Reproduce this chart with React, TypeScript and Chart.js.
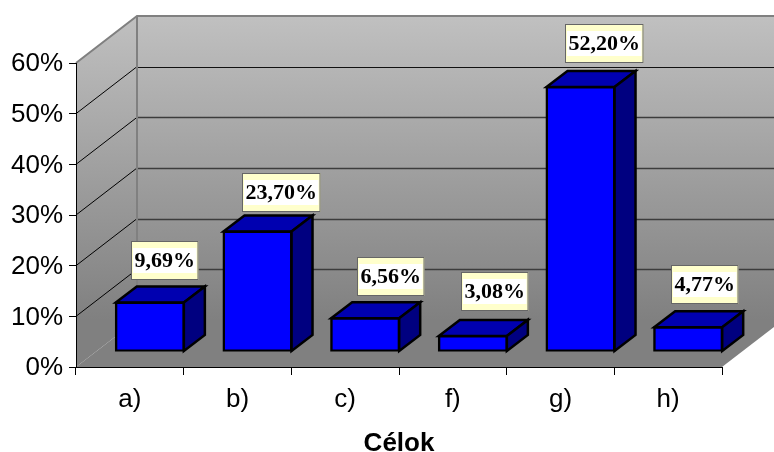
import React, { useEffect, useRef } from "react";
import { Chart, registerables } from "chart.js";

Chart.register(...registerables);

const categories = ["a)", "b)", "c)", "f)", "g)", "h)"];
const shares = [9.69, 23.7, 6.56, 3.08, 52.2, 4.77];
const shareLabels = ["9,69%", "23,70%", "6,56%", "3,08%", "52,20%", "4,77%"];
const yTicks = [0, 10, 20, 30, 40, 50, 60];
const axisTitle = "Célok";
const labelNudgeX = [15, 23.7, 26, 22, 24, 17];
const labelGapY = [22.3, 19.4, 22, 25.3, 24.3, 23];

const WALL_DX = 61;
const WALL_DY = -47;
const BAR_SHIFT_X = 20;
const BAR_SHIFT_Y = -15.5;
const BAR_DX = 21;
const BAR_DY = -16;
const SERIF = '"Liberation Serif", "Times New Roman", serif';
const SANS = '"Liberation Sans", Arial, sans-serif';

const wallsPlugin = {
  id: "walls",
  beforeDatasetsDraw(chart: any) {
    const { ctx, chartArea: a, scales } = chart;
    const y = scales.y;
    const L = a.left, R = a.right, T = a.top, B = a.bottom;
    const grad = ctx.createLinearGradient(0, T + WALL_DY, 0, B + WALL_DY);
    grad.addColorStop(0, "#c0c0c0");
    grad.addColorStop(1, "#808080");
    ctx.save();
    ctx.fillStyle = grad;
    ctx.fillRect(L + WALL_DX, T + WALL_DY, R - L + 10, B - T);
    ctx.beginPath();
    ctx.moveTo(L, T);
    ctx.lineTo(L + WALL_DX, T + WALL_DY);
    ctx.lineTo(L + WALL_DX, B + WALL_DY);
    ctx.lineTo(L, B);
    ctx.closePath();
    ctx.fill();
    ctx.fillStyle = "#808080";
    ctx.beginPath();
    ctx.moveTo(L, B);
    ctx.lineTo(L + WALL_DX, B + WALL_DY);
    ctx.lineTo(R + WALL_DX, B + WALL_DY);
    ctx.lineTo(R, B);
    ctx.closePath();
    ctx.fill();
    ctx.strokeStyle = "#000000";
    ctx.lineWidth = 1;
    for (const t of yTicks) {
      if (t === 0 || t === 60) continue;
      const py = y.getPixelForValue(t);
      ctx.beginPath();
      ctx.moveTo(L, py);
      ctx.lineTo(L + WALL_DX, py + WALL_DY);
      ctx.stroke();
      const by = Math.round(py + WALL_DY) + 0.5;
      ctx.strokeStyle = t >= 50 ? "#111111" : "#3c3c3c";
      ctx.lineWidth = t >= 50 ? 1 : 1.5;
      ctx.beginPath();
      ctx.moveTo(L + WALL_DX, by);
      ctx.lineTo(R + WALL_DX, by);
      ctx.stroke();
      ctx.strokeStyle = "#000000";
      ctx.lineWidth = 1;
    }
    ctx.strokeStyle = "#808080";
    ctx.lineWidth = 2;
    ctx.beginPath();
    ctx.moveTo(L, T);
    ctx.lineTo(L + WALL_DX, T + WALL_DY);
    ctx.lineTo(R + WALL_DX, T + WALL_DY);
    ctx.moveTo(L + WALL_DX, T + WALL_DY);
    ctx.lineTo(L + WALL_DX, B + WALL_DY);
    ctx.stroke();
    ctx.strokeStyle = "#000000";
    ctx.lineWidth = 1;
    ctx.beginPath();
    ctx.moveTo(L + 0.5, T);
    ctx.lineTo(L + 0.5, B);
    ctx.moveTo(L, B + 0.5);
    ctx.lineTo(R, B + 0.5);
    ctx.stroke();
    ctx.restore();
  },
  beforeDatasetDraw(chart: any) {
    const { ctx } = chart;
    ctx.save();
    ctx.translate(BAR_SHIFT_X, BAR_SHIFT_Y);
    for (const bar of chart.getDatasetMeta(0).data) {
      const hw = bar.width / 2;
      const x0 = bar.x - hw, x1 = bar.x + hw, t = bar.y, b = bar.base;
      ctx.lineWidth = 2.5;
      ctx.strokeStyle = "#000000";
      ctx.lineJoin = "miter";
      ctx.fillStyle = "#0000b0";
      ctx.beginPath();
      ctx.moveTo(x0, t);
      ctx.lineTo(x0 + BAR_DX, t + BAR_DY);
      ctx.lineTo(x1 + BAR_DX, t + BAR_DY);
      ctx.lineTo(x1, t);
      ctx.closePath();
      ctx.fill();
      ctx.stroke();
      ctx.fillStyle = "#000080";
      ctx.beginPath();
      ctx.moveTo(x1, t);
      ctx.lineTo(x1 + BAR_DX, t + BAR_DY);
      ctx.lineTo(x1 + BAR_DX, b + BAR_DY);
      ctx.lineTo(x1, b);
      ctx.closePath();
      ctx.fill();
      ctx.stroke();
    }
  },
  afterDatasetDraw(chart: any) {
    chart.ctx.restore();
  },
  afterDatasetsDraw(chart: any) {
    const { ctx } = chart;
    ctx.save();
    ctx.font = `bold 22px ${SERIF}`;
    ctx.textAlign = "center";
    ctx.textBaseline = "middle";
    chart.getDatasetMeta(0).data.forEach((bar: any, i: number) => {
      const label = shareLabels[i];
      const w = ctx.measureText(label).width + 7;
      const h = 39;
      const cx = bar.x + BAR_SHIFT_X + labelNudgeX[i];
      const bottom = bar.y + BAR_SHIFT_Y - labelGapY[i];
      const x = Math.round(cx - w / 2);
      const yTop = Math.round(bottom - h);
      ctx.fillStyle = "#ffffcc";
      ctx.fillRect(x, yTop, w, h);
      ctx.fillStyle = "#ffffff";
      ctx.fillRect(x + 2, yTop + 7, w - 4, h - 14);
      ctx.strokeStyle = "#666666";
      ctx.lineWidth = 1;
      ctx.strokeRect(x + 0.5, yTop + 0.5, w - 1, h - 1);
      ctx.fillStyle = "#000000";
      ctx.fillText(label, x + w / 2, yTop + h / 2 + 1);
    });
    ctx.restore();
  },
};

export default function App() {
  const ref = useRef<HTMLCanvasElement>(null);
  useEffect(() => {
    const chart = new Chart(ref.current as HTMLCanvasElement, {
      type: "bar",
      data: {
        labels: categories,
        datasets: [
          {
            data: shares,
            backgroundColor: "#0000ff",
            borderColor: "#000000",
            borderWidth: 2.5,
            borderSkipped: false,
            inflateAmount: 1,
            categoryPercentage: 1,
            barPercentage: 0.632,
          },
        ],
      },
      options: {
        animation: false,
        responsive: false,
        devicePixelRatio: 1,
        layout: { padding: { left: 0, right: 52, top: 63, bottom: 0 } },
        plugins: { legend: { display: false }, tooltip: { enabled: false } },
        scales: {
          x: {
            offset: true,
            afterFit(axis: any) {
              axis.height = 85;
            },
            grid: {
              display: true,
              offset: true,
              drawOnChartArea: false,
              drawTicks: true,
              tickLength: 8,
              tickColor: "#000000",
            },
            border: { display: false },
            ticks: {
              color: "#000000",
              font: { family: SANS, size: 26 },
              padding: 9,
              maxRotation: 0,
            },
            title: {
              display: true,
              text: axisTitle,
              color: "#000000",
              font: { family: SANS, size: 26, weight: "bold" },
              padding: { top: 0, bottom: -7 },
            },
          },
          y: {
            min: 0,
            max: 60,
            afterBuildTicks(axis: any) {
              axis.ticks = yTicks.map((value) => ({ value }));
            },
            grid: {
              display: true,
              drawOnChartArea: false,
              drawTicks: true,
              tickLength: 7,
              tickColor: "#000000",
            },
            border: { display: false },
            afterFit(axis: any) {
              axis.width = 76;
            },
            ticks: {
              color: "#000000",
              font: { family: SANS, size: 26 },
              padding: 6,
              labelOffset: 1,
              callback: (v: any) => `${v}%`,
            },
          },
        },
      },
      plugins: [wallsPlugin],
    } as any);
    return () => chart.destroy();
  }, []);
  return (
    <canvas
      ref={ref}
      width={774}
      height={452}
      style={{ position: "absolute", left: 0, top: 0, display: "block" }}
    />
  );
}
